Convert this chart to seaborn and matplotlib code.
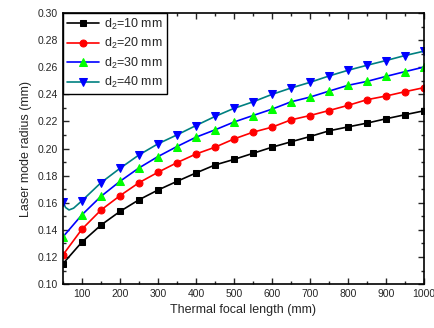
import numpy as np
import pandas as pd
import matplotlib
matplotlib.use("Agg")
import matplotlib.pyplot as plt
from matplotlib.ticker import MultipleLocator, FormatStrFormatter
import seaborn as sns

focal = [50, 100, 150, 200, 250, 300, 350, 400, 450, 500, 550,
         600, 650, 700, 750, 800, 850, 900, 950, 1000]
d10 = [0.115, 0.131, 0.1435, 0.1536, 0.1622, 0.1694, 0.1758, 0.182, 0.1879, 0.192, 0.1965,
       0.201, 0.205, 0.2089, 0.2131, 0.216, 0.2188, 0.222, 0.225, 0.2279]
d20 = [0.1215, 0.1405, 0.1546, 0.1652, 0.1748, 0.1825, 0.1896, 0.196, 0.201, 0.2071, 0.2121,
       0.2158, 0.2212, 0.2244, 0.2281, 0.2319, 0.2361, 0.2388, 0.242, 0.245]
d30 = [0.1348, 0.1511, 0.1647, 0.1758, 0.1857, 0.1941, 0.2015, 0.2084, 0.2138, 0.2196, 0.2244,
       0.2291, 0.2345, 0.238, 0.2424, 0.2467, 0.2496, 0.2533, 0.2568, 0.2602]
# d2=40 mm curve has a small dip just after the start
focal40 = [50, 57, 66, 78, 100, 150, 200, 250, 300, 350, 400, 450, 500, 550,
           600, 650, 700, 750, 800, 850, 900, 950, 1000]
d40 = [0.1607, 0.1565, 0.1547, 0.156, 0.1615, 0.1748, 0.1854, 0.1953, 0.2035, 0.2101, 0.217,
       0.2237, 0.2297, 0.2345, 0.24, 0.2447, 0.2489, 0.2536, 0.2578, 0.2615, 0.265, 0.2687, 0.2719]

labels = ["d$_2$=10 mm", "d$_2$=20 mm", "d$_2$=30 mm", "d$_2$=40 mm"]
xticks = [100, 200, 300, 400, 500, 600, 700, 800, 900, 1000]
yticks = [0.10, 0.12, 0.14, 0.16, 0.18, 0.20, 0.22, 0.24, 0.26, 0.28, 0.30]

sns.set_style("ticks")
plt.rcParams['font.family'] = ['Liberation Sans', 'DejaVu Sans']
plt.rcParams['mathtext.fontset'] = 'custom'
plt.rcParams['mathtext.rm'] = 'Liberation Sans'
plt.rcParams['mathtext.it'] = 'Liberation Sans'

fig = plt.figure(figsize=(4.34, 3.28), dpi=100)
ax = fig.add_axes([0.145, 0.134, 0.832, 0.826])

series = [
    (focal, d10, labels[0], "black", "s", "black", 4.5, None),
    (focal, d20, labels[1], "red", "o", "red", 5, None),
    (focal, d30, labels[2], "blue", "^", "#00ff00", 6, None),
    (focal40, d40, labels[3], "#008080", "v", "blue", 6,
     [i for i, v in enumerate(focal40) if v % 50 == 0]),
]
for xs, ys, lab, lc, mk, mc, ms, mev in series:
    kw = dict(markevery=mev) if mev is not None else {}
    sns.lineplot(x=xs, y=ys, ax=ax, color=lc, marker=mk, markerfacecolor=mc,
                 markeredgecolor=mc, markersize=ms, linewidth=1.2, label=lab,
                 errorbar=None, sort=False, **kw)

ax.set_xlim(50, 1000)
ax.set_ylim(0.10, 0.30)
ax.set_xticks(xticks)
ax.set_yticks(yticks)
ax.yaxis.set_major_formatter(FormatStrFormatter('%.2f'))
ax.xaxis.set_minor_locator(MultipleLocator(50))
ax.yaxis.set_minor_locator(MultipleLocator(0.01))
ax.tick_params(which='both', direction='in', top=True, right=True, labelsize=7.5, width=1)
ax.tick_params(which='major', length=4)
ax.tick_params(which='minor', length=2)
for s in ax.spines.values():
    s.set_linewidth(1.2)
    s.set_color('black')
ax.set_xlabel("Thermal focal length (mm)", fontsize=9)
ax.set_ylabel("Laser mode radius (mm)", fontsize=9)

leg = ax.legend(loc='upper left', fontsize=9, frameon=True, fancybox=False,
                edgecolor='black', borderaxespad=0.0, handlelength=2.6,
                labelspacing=0.35, borderpad=0.3, handletextpad=0.4)
leg.get_frame().set_linewidth(1.0)
leg.get_frame().set_alpha(1)

fig.savefig("out.png", dpi=100)
